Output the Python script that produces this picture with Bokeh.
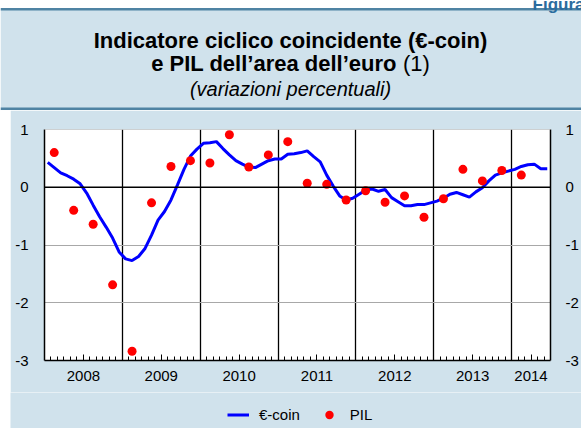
from bokeh.plotting import figure
from bokeh.layouts import column, row
from bokeh.models import (FixedTicker, Legend, LegendItem, Span, Range1d,
                          ColumnDataSource, LinearAxis, Spacer)
from bokeh.core.properties import value
from bokeh.embed import file_html
from bokeh.resources import INLINE

# ---------------- data ----------------
# monthly €-coin, Jan 2008 .. Jun 2014
ecoin = [0.43, 0.34, 0.25, 0.20, 0.14, 0.06, -0.10, -0.31, -0.51, -0.69, -0.88, -1.12,
         -1.24, -1.27, -1.20, -1.06, -0.83, -0.57, -0.42, -0.22, 0.04, 0.31, 0.54, 0.66,
         0.76, 0.77, 0.79, 0.67, 0.56, 0.46, 0.40, 0.35, 0.34, 0.40, 0.46, 0.49,
         0.49, 0.57, 0.58, 0.60, 0.63, 0.53, 0.44, 0.21, 0.02, -0.15, -0.22, -0.19,
         -0.12, -0.05, -0.03, -0.07, -0.04, -0.18, -0.25, -0.32, -0.32, -0.30, -0.30, -0.27,
         -0.24, -0.19, -0.12, -0.09, -0.13, -0.17, -0.08, -0.01, 0.11, 0.21, 0.25, 0.28,
         0.31, 0.36, 0.39, 0.40, 0.32, 0.32]
# quarterly PIL (GDP, q/q %), Q1 2008 .. Q1 2014
pil = [0.60, -0.40, -0.64, -1.69,
       -2.84, -0.27, 0.36, 0.46,
       0.42, 0.91, 0.35, 0.56,
       0.79, 0.07, 0.05, -0.22,
       -0.06, -0.26, -0.15, -0.52,
       -0.20, 0.31, 0.11, 0.29,
       0.21]
years = ["2008", "2009", "2010", "2011", "2012", "2013", "2014"]
y_ticks = [-3, -2, -1, 0, 1]
y_tick_labels = ["-3", "-2", "-1", "0", "1"]
series_names = ["€-coin", "PIL"]

n_months = len(ecoin)
x_month = [m + 0.5 for m in range(n_months)]
x_quarter = [q * 3 + 1.5 for q in range(len(pil))]
year_label_pos = [12 * i + 6 if 12 * i + 12 <= n_months else (12 * i + n_months) / 2
                  for i in range(len(years))]
year_bounds = [12 * i for i in range(1, len(years))]

PANEL = "#d0e2ec"
RULE = "#4f83a3"
FONT = "Liberation Sans"
LINE_C = "#0000ff"
DOT_C = "#ff0000"

# ---------------- header ----------------
HW, HH = 581, 110
hf = figure(width=HW, height=HH, x_range=Range1d(0, HW), y_range=Range1d(HH, 0),
            output_backend="svg", toolbar_location=None,
            x_axis_type=None, y_axis_type=None,
            min_border_left=0, min_border_right=0, min_border_top=0, min_border_bottom=0,
            background_fill_color="white", border_fill_color="white",
            outline_line_color=None)
hf.xgrid.visible = False
hf.ygrid.visible = False
hf.quad(left=[0], right=[HW], top=[9], bottom=[HH], fill_color=PANEL, line_color=None)
hf.quad(left=[0], right=[HW], top=[7.5], bottom=[10], fill_color=RULE, line_color=None)
hf.quad(left=[0], right=[HW], top=[107], bottom=[109.5], fill_color=RULE, line_color=None)
hf.text(x=[584], y=[4], text=["Figura"], text_align="right", text_baseline="alphabetic",
        text_font=value(FONT), text_font_size="17px", text_font_style="bold",
        text_color="#2b6c9e")
hf.text(x=[290], y=[40], text=["Indicatore ciclico coincidente (€-coin)"],
        text_align="center", text_baseline="alphabetic", text_font=value(FONT),
        text_font_size="22px", text_font_style="bold", text_color="black")
hf.text(x=[396.4], y=[63], text=["e PIL dell’area dell’euro"],
        text_align="right", text_baseline="alphabetic", text_font=value(FONT),
        text_font_size="22px", text_font_style="bold", text_color="black")
hf.text(x=[402.5], y=[63], text=["(1)"],
        text_align="left", text_baseline="alphabetic", text_font=value(FONT),
        text_font_size="22px", text_color="black")
hf.text(x=[290], y=[88], text=["(variazioni percentuali)"],
        text_align="center", text_baseline="alphabetic", text_font=value(FONT),
        text_font_size="20px", text_font_style="italic", text_color="black")

# ---------------- main chart ----------------
W, H = 571, 282
FL, FR, FT, FB = 34, 31, 19, 32

p = figure(width=W, height=H, x_range=Range1d(0, n_months), y_range=Range1d(-3, 1),
           output_backend="svg", toolbar_location=None,
           min_border_left=FL, min_border_right=FR, min_border_top=FT, min_border_bottom=FB,
           background_fill_color="white", border_fill_color=PANEL,
           outline_line_color=None)
p.title.visible = False

xa = p.xaxis[0]
xa.ticker = FixedTicker(ticks=year_label_pos,
                        minor_ticks=[m for m in range(1, n_months) if m % 12 != 0])
xa.major_label_overrides = {t: y for t, y in zip(year_label_pos, years)}
xa.major_tick_in = 6
xa.major_tick_out = 0
xa.minor_tick_in = 4
xa.minor_tick_out = 0
xa.major_tick_line_color = "black"
xa.minor_tick_line_color = "black"
xa.axis_line_color = "black"
xa.axis_line_width = 1.5
xa.major_label_text_font = FONT
xa.major_label_text_font_size = "15px"
xa.major_label_text_color = "black"
xa.major_label_standoff = 10

ya = p.yaxis[0]
yr = LinearAxis()
p.add_layout(yr, "right")
for ax in (ya, yr):
    ax.ticker = FixedTicker(ticks=y_ticks)
    ax.major_label_overrides = {t: s for t, s in zip(y_ticks, y_tick_labels)}
    ax.major_tick_line_color = None
    ax.minor_tick_line_color = None
    ax.major_tick_in = 0
    ax.major_tick_out = 0
    ax.minor_tick_in = 0
    ax.minor_tick_out = 0
    ax.major_label_text_font = FONT
    ax.major_label_text_font_size = "15px"
    ax.major_label_text_color = "black"
    ax.major_label_standoff = 16
ya.axis_line_color = "black"
ya.axis_line_width = 1.5
yr.axis_line_color = "black"
yr.axis_line_width = 1.5
yr.major_label_standoff = 15
yr.major_label_text_align = "left"

p.xgrid.ticker = FixedTicker(ticks=year_bounds)
p.xgrid.grid_line_color = "black"
p.xgrid.grid_line_width = 1.3
p.ygrid.ticker = FixedTicker(ticks=[t for t in y_ticks if t not in (0, -3)])
p.ygrid.grid_line_color = "#a8a8a8"
p.ygrid.grid_line_width = 1.2

p.add_layout(Span(location=1, dimension="width", line_color="#a8a8a8", line_width=1.2))
p.add_layout(Span(location=0, dimension="width", line_color="black", line_width=1.5))

src_line = ColumnDataSource(dict(x=x_month, y=ecoin))
src_pts = ColumnDataSource(dict(x=x_quarter, y=pil))
p.line("x", "y", source=src_line, line_color=LINE_C, line_width=3)
p.scatter("x", "y", source=src_pts, marker="circle", size=9,
          fill_color=DOT_C, line_color=None)

# ---------------- legend strip ----------------
# (same series re-drawn off-view so the legend has real renderers to sample)
LW, LH = 571, 36
lf = figure(width=LW, height=LH, x_range=Range1d(-200, -199), y_range=Range1d(0, 1),
            output_backend="svg", toolbar_location=None,
            x_axis_type=None, y_axis_type=None,
            min_border_left=0, min_border_right=0, min_border_top=0, min_border_bottom=0,
            background_fill_color=PANEL, border_fill_color=PANEL,
            outline_line_color=None)
lf.xgrid.visible = False
lf.ygrid.visible = False
k_line = lf.line("x", "y", source=src_line, line_color=LINE_C, line_width=3)
k_pts = lf.scatter("x", "y", source=src_pts, marker="circle", size=9,
                   fill_color=DOT_C, line_color=None)
legend = Legend(items=[LegendItem(label=series_names[0], renderers=[k_line]),
                       LegendItem(label=series_names[1], renderers=[k_pts])],
                orientation="horizontal", location=(217, 3.5),
                background_fill_alpha=0, border_line_color=None,
                label_text_font=FONT, label_text_font_size="15px",
                label_text_color="black",
                glyph_width=22, glyph_height=21, label_standoff=10, spacing=18,
                padding=0, margin=0)
lf.add_layout(legend)

layout = column(hf,
                row(Spacer(width=10, height=H), p),
                row(Spacer(width=10, height=LH), lf))

open("out.html", "w").write(file_html(layout, INLINE))
